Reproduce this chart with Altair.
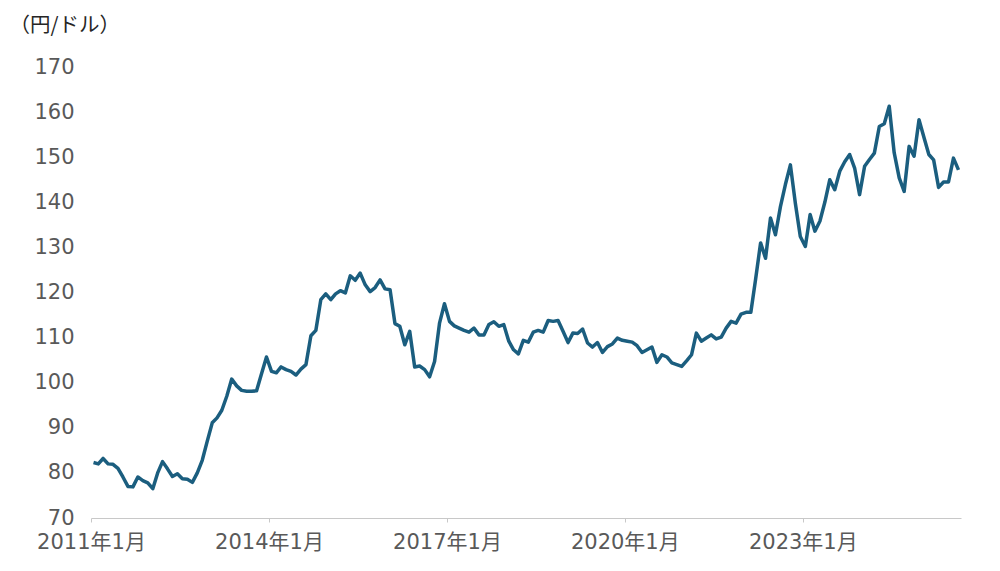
import altair as alt
import pandas as pd

# Month-end USD/JPY (円/ドル), Jan 2011 - Aug 2025
y2011 = [82.3, 82.0, 83.2, 82.0, 81.9, 81.0, 79.1, 77.0, 76.9, 79.1, 78.3, 77.8]
y2012 = [76.5, 80.0, 82.5, 80.9, 79.2, 79.8, 78.7, 78.6, 77.9, 80.0, 82.8, 87.0]
y2013 = [91.1, 92.2, 93.9, 97.0, 100.8, 99.3, 98.3, 98.1, 98.1, 98.2, 102.0, 105.7]
y2014 = [102.5, 102.2, 103.5, 102.9, 102.5, 101.7, 103.0, 104.0, 110.4, 111.6, 118.4, 119.7]
y2015 = [118.4, 119.7, 120.4, 119.9, 123.7, 122.7, 124.3, 121.7, 120.2, 121.1, 122.8, 120.8]
y2016 = [120.6, 113.1, 112.5, 108.4, 111.4, 103.5, 103.7, 102.9, 101.3, 104.7, 113.2, 117.5]
y2017 = [113.6, 112.6, 112.1, 111.6, 111.2, 112.1, 110.6, 110.6, 112.9, 113.5, 112.5, 112.9]
y2018 = [109.2, 107.3, 106.4, 109.4, 109.0, 111.2, 111.6, 111.2, 113.8, 113.6, 113.8, 111.4]
y2019 = [108.9, 111.0, 110.9, 111.9, 108.8, 107.9, 108.9, 106.7, 108.0, 108.6, 109.9, 109.4]
y2020 = [109.2, 109.0, 108.2, 106.7, 107.3, 107.9, 104.5, 106.2, 105.7, 104.4, 104.0, 103.6]
y2021 = [104.9, 106.2, 111.0, 109.2, 109.9, 110.6, 109.7, 110.1, 112.1, 113.6, 113.2, 115.2]
y2022 = [115.6, 115.6, 123.0, 131.0, 127.6, 136.5, 132.8, 139.1, 144.0, 148.3, 139.8, 132.4]
y2023 = [130.2, 137.3, 133.6, 135.8, 140.0, 145.0, 142.8, 146.9, 149.0, 150.6, 147.6, 141.7]
y2024 = [148.0, 149.5, 150.9, 156.8, 157.4, 161.3, 151.0, 145.4, 142.4, 152.4, 150.2, 158.3]
y2025 = [154.3, 150.6, 149.4, 143.3, 144.5, 144.5, 149.8, 147.2]

years = [2011 + k for k in range(15)]
series = [y2011, y2012, y2013, y2014, y2015, y2016, y2017, y2018, y2019,
          y2020, y2021, y2022, y2023, y2024, y2025]

tick_years = [2011, 2014, 2017, 2020, 2023]
y_ticks = [70, 80, 90, 100, 110, 120, 130, 140, 150, 160, 170]

rows = []
for yr, vals in zip(years, series):
    for m, v in enumerate(vals):
        start = pd.Timestamp(year=yr, month=m + 1, day=1)
        end = start + pd.offsets.MonthBegin(1)
        mid = start + (end - start) / 2
        rows.append({"date": mid.strftime("%Y-%m-%dT%H:%M:%S"), "rate": v})
df = pd.DataFrame(rows)

tick_vals = [alt.DateTime(year=y, month=1, date=1) for y in tick_years]

FONT = "DejaVu Sans, Noto Sans CJK JP"
GREY = "#595959"

chart = alt.Chart(df).mark_line(
    color="#1b5e7f", strokeWidth=3.5, strokeJoin="round", strokeCap="butt"
).encode(
    x=alt.X(
        "date:T",
        scale=alt.Scale(domain=[alt.DateTime(year=2011, month=1, date=1),
                                alt.DateTime(year=2025, month=9, date=1)]),
        axis=alt.Axis(
            values=tick_vals, format="%Y年%-m月", title=None, grid=False,
            domainColor="#c8c8c8", domainWidth=1, tickColor="#c8c8c8",
            tickSize=4, labelFont=FONT, labelFontSize=21, labelColor=GREY,
            labelPadding=9, labelAlign="center", labelFlush=False,
        ),
    ),
    y=alt.Y(
        "rate:Q",
        scale=alt.Scale(domain=[70, 170], nice=False, zero=False),
        axis=alt.Axis(
            values=y_ticks, title="（円/ドル）", grid=False, domain=False,
            ticks=False, labelFont=FONT, labelFontSize=21, labelColor=GREY,
            labelPadding=17,
            titleAngle=0, titleAlign="left", titleBaseline="middle",
            titleX=-82, titleY=-42, titleFont="Noto Sans CJK JP",
            titleFontSize=20.5, titleFontWeight="normal", titleColor="#262626",
        ),
    ),
).properties(
    width=870, height=451,
    autosize=alt.AutoSizeParams(type="none"),
    padding={"left": 83, "top": 59, "right": 20, "bottom": 40},
).configure(background="white").configure_view(stroke=None, strokeWidth=0)

chart.save("out.html", embed_options={"renderer": "svg", "actions": False})
